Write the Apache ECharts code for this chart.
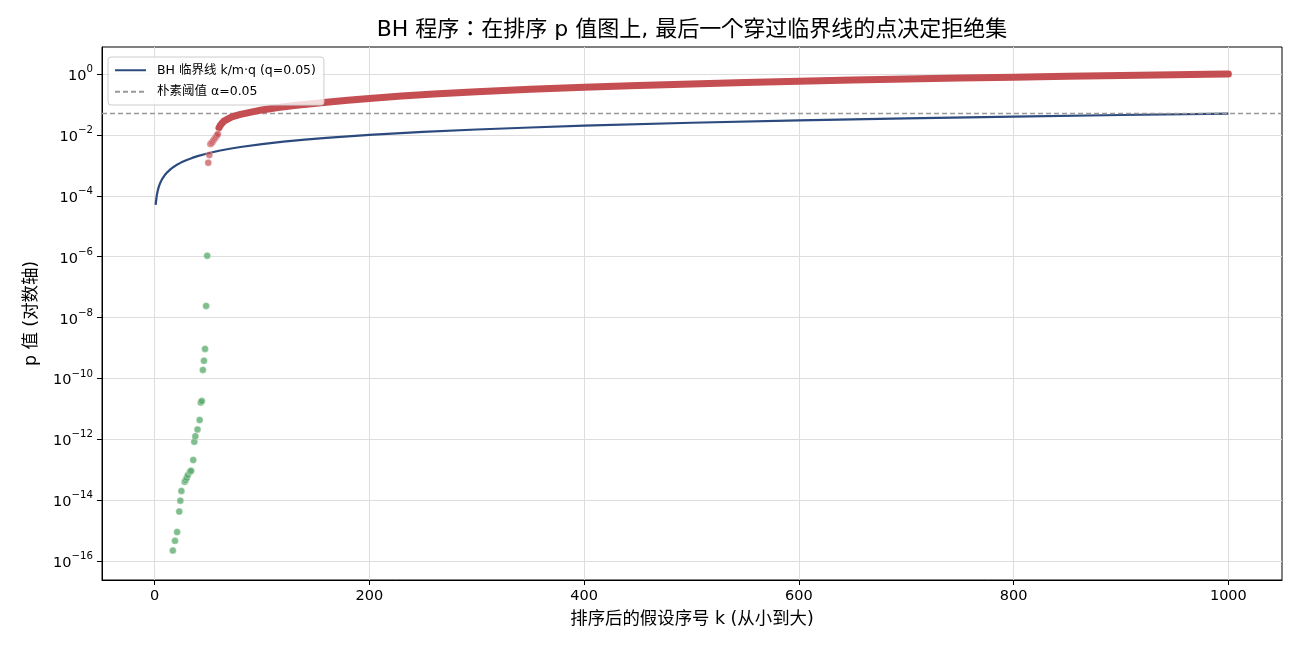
<!DOCTYPE html>
<html>
<head>
<meta charset="utf-8">
<script src="https://cdn.jsdelivr.net/npm/echarts@6/dist/echarts.min.js"></script>
<style>
  html, body { margin: 0; padding: 0; background: #fff; }
  #chart { width: 1300px; height: 650px; }
</style>
</head>
<body>
<div id="chart"></div>
<script>
var FONT = '"DejaVu Sans", "Noto Sans CJK SC", sans-serif';
var TITLE_FONT = '"DejaVu Sans", "Noto Sans CJK JP", sans-serif';

// tick positions (x: rank, y: log10 exponent)
var xTicks = [0, 200, 400, 600, 800, 1000];
var yTickExps = [-16, -14, -12, -10, -8, -6, -4, -2, 0];

// BH critical line k/m*q, m = 1000, q = 0.05
var bhK = [1, 2, 3, 4, 5, 6, 7, 8, 10, 12, 15, 18, 20, 25, 30, 35, 40, 50, 60, 70, 80, 100, 120, 140, 160, 200, 250, 300, 350, 400, 500, 600, 700, 800, 900, 1000];
var bhP = [5e-5, 1e-4, 1.5e-4, 2e-4, 2.5e-4, 3e-4, 3.5e-4, 4e-4, 5e-4, 6e-4, 7.5e-4, 9e-4, 1e-3, 1.25e-3, 1.5e-3, 1.75e-3, 2e-3, 2.5e-3, 3e-3, 3.5e-3, 4e-3, 5e-3, 6e-3, 7e-3, 8e-3, 1e-2, 1.25e-2, 1.5e-2, 1.75e-2, 2e-2, 2.5e-2, 3e-2, 3.5e-2, 4e-2, 4.5e-2, 5e-2];

// naive threshold
var alpha = 0.05;

// rejected hypotheses (green)
var greenK = [17, 19, 21, 23, 24, 25, 28, 29, 30, 31, 33, 34, 36, 37, 38, 40, 42, 43, 44, 45, 46, 47, 48, 49];
var greenP = [2.2e-16, 4.6e-16, 8.9e-16, 4.2e-15, 9.6e-15, 2.0e-14, 4.0e-14, 4.6e-14, 5.4e-14, 6.7e-14, 8.6e-14, 9.3e-14, 2.1e-13, 8.3e-13, 1.26e-12, 2.1e-12, 4.3e-12, 1.6e-11, 1.8e-11, 1.9e-10, 3.8e-10, 9.3e-10, 2.4e-8, 1.07e-6];

// not rejected: first separate points (red)
var redDotK = [50, 51, 52, 53, 54, 55, 56, 57, 58, 59];
var redDotP = [1.22e-3, 2.2e-3, 5.0e-3, 5.4e-3, 6.0e-3, 6.8e-3, 7.6e-3, 8.5e-3, 9.5e-3, 1.07e-2];

// not rejected: dense band (red)
var redBandK = [60, 61, 63, 65, 68, 72, 80, 90, 100, 115, 130, 160, 180, 200, 230, 260, 300, 350, 400, 450, 500, 550, 600, 650, 700, 750, 800, 850, 900, 950, 980, 1000];
var redBandP = [0.017, 0.020, 0.0245, 0.029, 0.033, 0.039, 0.047, 0.056, 0.066, 0.079, 0.092, 0.118, 0.137, 0.157, 0.188, 0.22, 0.262, 0.315, 0.367, 0.42, 0.472, 0.525, 0.578, 0.63, 0.683, 0.735, 0.788, 0.84, 0.893, 0.946, 0.975, 0.998];

function pairs(ks, ps) {
  return ks.map(function(k, i) { return [k, Math.log10(ps[i])]; });
}

var chart = echarts.init(document.getElementById('chart'), null, { renderer: 'canvas' });

var supFmt = function(v) {
  var e = Math.round(v);
  var s = e < 0 ? '\u2212' + (-e) : String(e);
  return '{b|10}{s|' + s + '}';
};

chart.setOption({
  animation: false,
  backgroundColor: '#fff',
  textStyle: { fontFamily: FONT },
  title: {
    text: 'BH 程序：在排序 p 值图上, 最后一个穿过临界线的点决定拒绝集',
    left: 692,
    top: 19,
    textAlign: 'center',
    padding: 0,
    textStyle: { fontSize: 22, fontWeight: 'normal', color: '#000', fontFamily: TITLE_FONT }
  },
  legend: {
    data: ['BH 临界线 k/m·q (q=0.05)', '朴素阈值 α=0.05'],
    orient: 'vertical',
    left: 108,
    top: 57,
    padding: [7, 8, 7, 6],
    itemWidth: 31,
    itemHeight: 14,
    itemGap: 9,
    backgroundColor: 'rgba(255,255,255,0.8)',
    borderColor: '#cccccc',
    borderWidth: 1,
    borderRadius: 3,
    z: 20,
    itemStyle: { opacity: 0 },
    textStyle: { fontSize: 12.5, color: '#000', fontFamily: FONT, padding: [0, 0, 0, 6] }
  },
  grid: {
    left: 102, right: 18, top: 47, bottom: 70,
    show: true, borderColor: '#000', borderWidth: 1,
    containLabel: false,
    outerBoundsMode: 'none'
  },
  xAxis: {
    type: 'value',
    min: -48.95,
    max: 1049.95,
    name: '排序后的假设序号 k (从小到大)',
    nameLocation: 'middle',
    nameGap: 31,
    nameTextStyle: { fontSize: 17.4, color: '#000', fontFamily: FONT },
    axisLine: { show: true, onZero: false, lineStyle: { color: '#000', width: 1 } },
    axisTick: { show: true, length: 5, lineStyle: { color: '#000' }, customValues: xTicks },
    axisLabel: {
      fontSize: 14.5, color: '#000', margin: 9, fontFamily: FONT, customValues: xTicks,
      formatter: function(v) { return String(v); }
    },
    splitLine: { show: true, lineStyle: { color: '#dedede', width: 1 } }
  },
  yAxis: {
    type: 'value',
    min: -16.624,
    max: 0.887,
    name: 'p 值 (对数轴)',
    nameLocation: 'middle',
    nameGap: 62,
    nameTextStyle: { fontSize: 17.4, color: '#000', fontFamily: FONT },
    axisLine: { show: true, onZero: false, lineStyle: { color: '#000', width: 1 } },
    axisTick: { show: true, length: 5, lineStyle: { color: '#000' }, customValues: yTickExps },
    axisLabel: {
      color: '#000',
      margin: 9,
      customValues: yTickExps,
      formatter: supFmt,
      rich: {
        b: { fontSize: 14.5, lineHeight: 19, verticalAlign: 'bottom', color: '#000', fontFamily: FONT },
        s: { fontSize: 10.2, lineHeight: 10, verticalAlign: 'top', color: '#000', fontFamily: FONT }
      }
    },
    splitLine: { show: true, lineStyle: { color: '#dedede', width: 1 } }
  },
  series: [
    {
      name: 'BH 临界线 k/m·q (q=0.05)',
      type: 'line',
      data: pairs(bhK, bhP),
      symbol: 'none',
      z: 2,
      lineStyle: { color: '#2c4a7e', width: 2.2, join: 'round' },
      itemStyle: { color: '#2c4a7e' }
    },
    {
      name: '朴素阈值 α=0.05',
      type: 'line',
      data: [],
      symbol: 'none',
      z: 3,
      lineStyle: { color: '#999999', width: 1.3, type: [5, 3] },
      itemStyle: { color: '#999999' },
      markLine: {
        silent: true,
        symbol: 'none',
        z: 3,
        label: { show: false },
        lineStyle: { color: '#999999', width: 1.3, type: [5, 3] },
        data: [{ yAxis: Math.log10(alpha) }]
      }
    },
    {
      name: 'red band',
      type: 'line',
      data: pairs(redBandK, redBandP),
      symbol: 'none',
      z: 6,
      lineStyle: { color: '#c44e52', width: 7, cap: 'round', join: 'round' }
    },
    {
      name: 'red dots',
      type: 'scatter',
      data: pairs(redDotK, redDotP),
      symbolSize: 7,
      z: 6,
      itemStyle: { color: '#c44e52', opacity: 0.7, borderColor: '#ffffff', borderWidth: 0.5 }
    },
    {
      name: 'green dots',
      type: 'scatter',
      data: pairs(greenK, greenP),
      symbolSize: 7,
      z: 6,
      itemStyle: { color: '#55a868', opacity: 0.75, borderColor: '#ffffff', borderWidth: 0.5 }
    }
  ]
});
</script>
</body>
</html>
